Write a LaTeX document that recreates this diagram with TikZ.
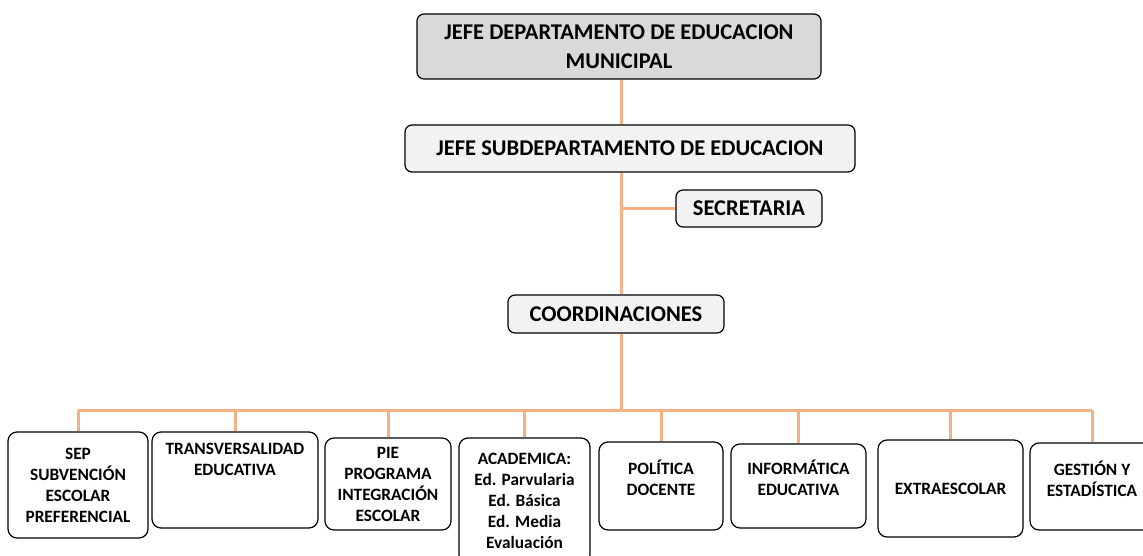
\documentclass[tikz,border=0pt]{standalone}
\usepackage{fontspec}
\setmainfont{Carlito}
\usetikzlibrary{calc}
\definecolor{linea}{HTML}{F4B183}
\definecolor{gris}{HTML}{D9D9D9}
\definecolor{grisclaro}{HTML}{F2F2F2}

\begin{document}
\begin{tikzpicture}[
    x=1pt, y=-1pt,
    box/.style={draw, rounded corners=9pt, line width=1.2pt, fill=white, align=center, inner sep=0pt, font=\bfseries\fontsize{17.3}{21}\selectfont},
    head/.style={box, fill=grisclaro, rounded corners=7pt, font=\bfseries\fontsize{22.5}{29}\selectfont},
    alto/.style={text depth=#1},
    conn/.style={linea, line width=3pt}
  ]
    \useasboundingbox (0,0) rectangle (1143,556);

    \node[head, fill=gris, minimum width=404pt, minimum height=65pt] (jefe) at (619,46.5) {JEFE DEPARTAMENTO DE EDUCACION\\MUNICIPAL};
    \node[head, minimum width=450pt, minimum height=47pt] (sub) at (630,148.5) {JEFE SUBDEPARTAMENTO DE EDUCACION};
    \node[head, minimum width=146pt, minimum height=37pt] (secr) at (749,208.5) {SECRETARIA};
    \node[head, minimum width=216pt, minimum height=38pt] (coord) at (616,314) {COORDINACIONES};

    \node[box, minimum width=140pt, minimum height=106pt] (sep) at (78,485) {SEP\\SUBVENCIÓN\\ESCOLAR\\PREFERENCIAL};
    \node[box, alto=42pt, minimum width=166pt, minimum height=96pt] (transv) at (235,480) {TRANSVERSALIDAD\\EDUCATIVA};
    \node[box, minimum width=126pt, minimum height=92pt] (pie) at (388,484) {PIE\\PROGRAMA\\INTEGRACIÓN\\ESCOLAR};
    \node[box, minimum width=131pt, minimum height=126pt] (acad) at (524.5,501) {ACADEMICA:\\Ed. Parvularia\\Ed. Básica\\Ed. Media\\Evaluación};
    \node[box, alto=16pt, minimum width=124pt, minimum height=88pt] (polit) at (661,486) {POLÍTICA\\DOCENTE};
    \node[box, alto=16pt, minimum width=135pt, minimum height=84pt] (info) at (798.5,486) {INFORMÁTICA\\EDUCATIVA};
    \node[box, minimum width=145pt, minimum height=97pt] (extra) at (950.5,488.5) {EXTRAESCOLAR};
    \node[box, alto=16pt, minimum width=124pt, minimum height=87pt] (gest) at (1092,486.5) {GESTIÓN Y\\ESTADÍSTICA};

    % tronco central y barra de coordinaciones
    \coordinate (trunk) at (621,410);
    \draw[conn] (jefe.south -| trunk) -- (sub.north -| trunk);
    \draw[conn] (sub.south -| trunk) -- (coord.north -| trunk);
    \draw[conn] (secr.west) -- (secr.west -| trunk);
    \draw[conn] (coord.south -| trunk) -- (trunk);
    \draw[conn] (trunk -| sep) -- (trunk -| gest);
    \foreach \n in {sep,transv,pie,acad,polit,info,extra,gest}
      \draw[conn] (trunk -| \n) -- (\n.north);
  \end{tikzpicture}
\end{document}
